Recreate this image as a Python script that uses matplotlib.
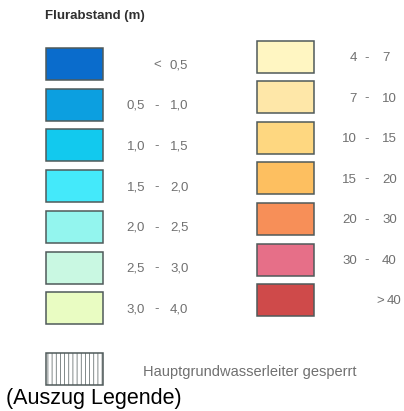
import matplotlib
matplotlib.use("Agg")
import matplotlib.pyplot as plt
from matplotlib.patches import Rectangle

plt.rcParams.update({"font.family": ["Liberation Sans", "DejaVu Sans"],
                     "hatch.color": "#a8a8a8", "hatch.linewidth": 0.5})

# legend classes (Flurabstand in m)
left_lo = ["", "0,5", "1,0", "1,5", "2,0", "2,5", "3,0"]
left_sep = ["<", "-", "-", "-", "-", "-", "-"]
left_hi = ["0,5", "1,0", "1,5", "2,0", "2,5", "3,0", "4,0"]
left_colors = ["#0a6ccc", "#0c9fe0", "#12c9ee", "#44e9fa",
               "#93f5ee", "#c9f8e2", "#e9fcc2"]

right_lo = ["4", "7", "10", "15", "20", "30", ""]
right_sep = ["-", "-", "-", "-", "-", "-", ">"]
right_hi = ["7", "10", "15", "20", "30", "40", "40"]
right_colors = ["#fff6c2", "#fee7a8", "#fed780", "#fdbf60",
                "#f78f58", "#e66f88", "#cf4a4a"]

title = "Flurabstand (m)"
extra_label = "Hauptgrundwasserleiter gesperrt"
caption = "(Auszug Legende)"

EDGE = "#4f5a5a"
TXT = "#707070"

fig = plt.figure(figsize=(4.04, 4.11), dpi=100)
ax = fig.add_axes([0, 0, 1, 1])
ax.set_xlim(0, 404)
ax.set_ylim(411, 0)
ax.axis("off")


def swatch(x, y, color, hatch=None):
    ax.add_patch(Rectangle((x, y), 57, 32, facecolor=color, edgecolor=EDGE,
                           linewidth=1.1, hatch=hatch))


def label(y, lo, sep, hi, x_lo, x_sep, x_hi):
    kw = dict(va="center", fontsize=9.5, color=TXT)
    if lo:
        ax.text(x_lo, y, lo, ha="right", **kw)
    ax.text(x_sep, y, sep, ha="center", **kw)
    ax.text(x_hi, y, hi, ha="left", **kw)


ax.text(45, 16, title, fontsize=9.5, fontweight="bold", color="#303030",
        va="center", ha="left")

for i, c in enumerate(left_colors):
    top = 48 + i * 40.7
    swatch(46, top, c)
    label(top + 17, left_lo[i], left_sep[i], left_hi[i], 145, 157, 170)

for i, c in enumerate(right_colors):
    top = 41 + i * 40.5
    swatch(257, top, c)
    if right_sep[i] == ">":
        label(top + 17, "", ">", right_hi[i], 357, 380, 387)
    else:
        label(top + 17, right_lo[i], right_sep[i], right_hi[i], 357, 367, 382)

swatch(46, 353, "white", hatch="||||")
ax.text(143, 372, extra_label, fontsize=10.5, color=TXT, va="center",
        ha="left")

ax.text(6, 398, caption, fontsize=15.5, color="black", va="center", ha="left")

fig.savefig("out.png", dpi=100, facecolor="white")
